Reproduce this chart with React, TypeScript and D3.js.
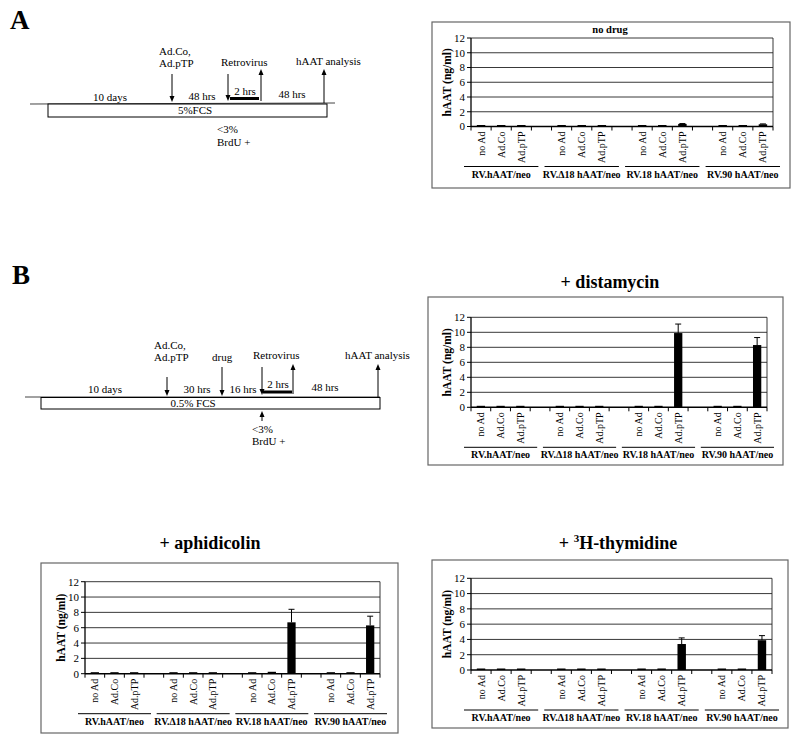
import React from "react";
import * as d3 from "d3";

// ---------- data ----------
const conditions = ["no Ad", "Ad.Co", "Ad.pTP"];
const vectors = ["RV.hAAT/neo", "RV.\u039418 hAAT/neo", "RV.18 hAAT/neo", "RV.90 hAAT/neo"];
const yTicks = [0, 2, 4, 6, 8, 10, 12];

// values ordered vector-major: [vector0: noAd, AdCo, AdpTP, vector1: ...]
const noDrugValues = [0.05, 0.05, 0.05, 0.05, 0.05, 0.08, 0.05, 0.08, 0.35, 0.03, 0.06, 0.3];
const noDrugErrors = [0, 0, 0, 0, 0, 0, 0, 0, 0.05, 0, 0, 0.05];
const distamycinValues = [0.03, 0.03, 0.03, 0.03, 0.03, 0.03, 0.03, 0.06, 9.9, 0.03, 0.06, 8.3];
const distamycinErrors = [0, 0, 0, 0, 0, 0, 0, 0, 1.2, 0, 0, 1.0];
const aphidicolinValues = [0.04, 0.05, 0.05, 0.05, 0.05, 0.05, 0.05, 0.25, 6.7, 0.05, 0.15, 6.3];
const aphidicolinErrors = [0, 0, 0, 0, 0, 0, 0, 0, 1.7, 0, 0, 1.2];
const thymidineValues = [0.05, 0.05, 0.05, 0.04, 0.04, 0.04, 0.05, 0.2, 3.4, 0.03, 0.1, 3.9];
const thymidineErrors = [0, 0, 0, 0, 0, 0, 0, 0, 0.8, 0, 0, 0.6];

const FONT = "'Liberation Serif', 'Times New Roman', serif";

// slots: 3 bars per vector with a blank slot between vectors
const SLOTS: string[] = [];
vectors.forEach((_, g) => {
  conditions.forEach((_, c) => SLOTS.push(`${g}-${c}`));
  if (g < vectors.length - 1) SLOTS.push(`${g}-gap`);
});

type PanelProps = {
  box: { x: number; y: number; w: number; h: number };
  plot: { x0: number; x1: number; y0: number; y1: number };
  title: React.ReactNode;
  titlePos: { x: number; y: number; size: number };
  values: number[];
  errors: number[];
};

function BarPanel({ box, plot, title, titlePos, values, errors }: PanelProps) {
  const x = d3.scaleBand<string>().domain(SLOTS).range([plot.x0, plot.x1]).padding(0);
  const y = d3.scaleLinear().domain([0, 12]).range([plot.y0, plot.y1]);
  const bw = x.bandwidth();
  const barW = bw * 0.42;
  const items = vectors.flatMap((v, g) =>
    conditions.map((c, ci) => ({ key: `${g}-${ci}`, cond: c, value: values[g * 3 + ci], err: errors[g * 3 + ci] }))
  );
  return (
    <g>
      <rect x={box.x} y={box.y} width={box.w} height={box.h} fill="none" stroke="#666" strokeWidth={1.2} />
      <text x={titlePos.x} y={titlePos.y} textAnchor="middle" fontFamily={FONT} fontWeight="bold" fontSize={titlePos.size}>
        {title}
      </text>
      {yTicks.filter((t) => t > 0).map((t) => (
        <line key={t} x1={plot.x0} x2={plot.x1} y1={y(t)} y2={y(t)} stroke="#222" strokeWidth={0.9} />
      ))}
      <line x1={plot.x1} x2={plot.x1} y1={y(12)} y2={y(0)} stroke="#222" strokeWidth={0.9} />
      <line x1={plot.x0} x2={plot.x0} y1={y(12)} y2={y(0)} stroke="#000" strokeWidth={1.3} />
      {yTicks.map((t) => (
        <g key={t}>
          <line x1={plot.x0 - 4} x2={plot.x0} y1={y(t)} y2={y(t)} stroke="#000" strokeWidth={1} />
          <text x={plot.x0 - 6} y={y(t)} dy="0.35em" textAnchor="end" fontFamily={FONT} fontSize={11}>
            {t}
          </text>
        </g>
      ))}
      <text
        transform={`translate(${plot.x0 - 20},${(y(0) + y(12)) / 2}) rotate(-90)`}
        textAnchor="middle"
        fontFamily={FONT}
        fontWeight="bold"
        fontSize={11.5}
      >
        hAAT (ng/ml)
      </text>
      {items.map((d) => {
        const cx = (x(d.key) as number) + bw / 2;
        const top = Math.min(y(d.value), y(0) - 1.5);
        return (
          <g key={d.key}>
            <rect x={cx - barW / 2} y={top} width={barW} height={y(0) - top} fill="#000" />
            {d.err > 0 && (
              <g stroke="#000" strokeWidth={1}>
                <line x1={cx} x2={cx} y1={y(d.value)} y2={y(d.value + d.err)} />
                <line x1={cx - 3} x2={cx + 3} y1={y(d.value + d.err)} y2={y(d.value + d.err)} />
              </g>
            )}
            <text
              transform={`translate(${cx},${y(0) + 5}) rotate(-90)`}
              textAnchor="end"
              dy="0.35em"
              fontFamily={FONT}
              fontSize={10}
            >
              {d.cond}
            </text>
          </g>
        );
      })}
      <line x1={plot.x0} x2={plot.x1} y1={y(0)} y2={y(0)} stroke="#000" strokeWidth={1.5} />
      {d3.range(SLOTS.length + 1).map((i) => {
        const xx = plot.x0 + i * bw;
        return <line key={i} x1={xx} x2={xx} y1={y(0)} y2={y(0) + 4} stroke="#000" strokeWidth={1} />;
      })}
      {vectors.map((v, g) => {
        const xs = x(`${g}-0`) as number;
        const xe = (x(`${g}-2`) as number) + bw;
        return (
          <g key={v}>
            <line x1={xs - 7} x2={xe + 7} y1={y(0) + 40} y2={y(0) + 40} stroke="#000" strokeWidth={1} />
            <text x={(xs + xe) / 2} y={y(0) + 51} textAnchor="middle" fontFamily={FONT} fontWeight="bold" fontSize={10}>
              {v}
            </text>
          </g>
        );
      })}
    </g>
  );
}

function Arrow({ x, y1, y2 }: { x: number; y1: number; y2: number }) {
  const dir = y2 > y1 ? 1 : -1;
  return (
    <g>
      <line x1={x} x2={x} y1={y1} y2={y2 - dir * 4} stroke="#000" strokeWidth={1} />
      <path d={`M${x - 2.5},${y2 - dir * 6}L${x + 2.5},${y2 - dir * 6}L${x},${y2}Z`} fill="#000" />
    </g>
  );
}

function T({ x, y, children, anchor = "start", size = 11, weight = "normal" }: any) {
  return (
    <text x={x} y={y} textAnchor={anchor} fontFamily={FONT} fontSize={size} fontWeight={weight}>
      {children}
    </text>
  );
}

function TimelineA() {
  return (
    <g>
      <T x={10} y={29} size={27} weight="bold">A</T>
      <line x1={30} x2={335} y1={104} y2={103} stroke="#444" strokeWidth={1} />
      <rect x={48} y={104} width={279} height={13} fill="#fff" stroke="#000" strokeWidth={1} />
      <T x={195} y={114} anchor="middle">5%FCS</T>
      <T x={110} y={101} anchor="middle">10 days</T>
      <T x={202} y={100} anchor="middle">48 hrs</T>
      <T x={245} y={95} anchor="middle">2 hrs</T>
      <line x1={230} x2={259} y1={98.5} y2={98.5} stroke="#000" strokeWidth={3} />
      <T x={292} y={98} anchor="middle">48 hrs</T>
      <T x={159} y={55}>Ad.Co,</T>
      <T x={159} y={67}>Ad.pTP</T>
      <Arrow x={172} y1={74} y2={102} />
      <T x={221} y={66}>Retrovirus</T>
      <Arrow x={228} y1={74} y2={101} />
      <Arrow x={261} y1={101} y2={69} />
      <T x={296} y={65}>hAAT analysis</T>
      <Arrow x={324} y1={103} y2={69} />
      <T x={217} y={133}>&lt;3%</T>
      <T x={217} y={146}>BrdU +</T>
    </g>
  );
}

function TimelineB() {
  return (
    <g>
      <T x={12} y={284} size={27} weight="bold">B</T>
      <line x1={25} x2={380} y1={397} y2={397} stroke="#444" strokeWidth={1} />
      <rect x={41} y={397.5} width={339} height={11.5} fill="#fff" stroke="#000" strokeWidth={1} />
      <T x={193} y={407} anchor="middle">0.5% FCS</T>
      <T x={105} y={393} anchor="middle">10 days</T>
      <T x={197} y={393} anchor="middle">30 hrs</T>
      <T x={243} y={393} anchor="middle">16 hrs</T>
      <T x={278} y={388} anchor="middle">2 hrs</T>
      <line x1={263} x2={292} y1={392} y2={392} stroke="#000" strokeWidth={3} />
      <T x={325} y={391} anchor="middle">48 hrs</T>
      <T x={154} y={349}>Ad.Co,</T>
      <T x={154} y={361}>Ad.pTP</T>
      <Arrow x={167} y1={377} y2={396} />
      <T x={212} y={361}>drug</T>
      <Arrow x={222} y1={367} y2={396} />
      <T x={253} y={359}>Retrovirus</T>
      <Arrow x={262} y1={367} y2={395} />
      <Arrow x={293} y1={394} y2={364} />
      <T x={345} y={359}>hAAT analysis</T>
      <Arrow x={378} y1={397} y2={364} />
      <Arrow x={262} y1={421} y2={411} />
      <T x={252} y={433}>&lt;3%</T>
      <T x={252} y={445}>BrdU +</T>
    </g>
  );
}

export default function App() {
  return (
    <div style={{ position: "absolute", left: 0, top: 0 }}>
      <svg width={800} height={741} style={{ display: "block", background: "#fff" }}>
        <TimelineA />
        <TimelineB />
        <BarPanel
          box={{ x: 432, y: 22, w: 358, h: 166 }}
          plot={{ x0: 471, x1: 773, y0: 126.5, y1: 38 }}
          title="no drug"
          titlePos={{ x: 610, y: 33, size: 10.5 }}
          values={noDrugValues}
          errors={noDrugErrors}
        />
        <BarPanel
          box={{ x: 428, y: 297, w: 355, h: 168 }}
          plot={{ x0: 471, x1: 767, y0: 407.3, y1: 317.3 }}
          title="+ distamycin"
          titlePos={{ x: 610, y: 288, size: 18 }}
          values={distamycinValues}
          errors={distamycinErrors}
        />
        <BarPanel
          box={{ x: 41, y: 563, w: 357, h: 170 }}
          plot={{ x0: 85, x1: 380, y0: 673.7, y1: 581.7 }}
          title="+ aphidicolin"
          titlePos={{ x: 210, y: 549, size: 18 }}
          values={aphidicolinValues}
          errors={aphidicolinErrors}
        />
        <BarPanel
          box={{ x: 432, y: 560, w: 356, h: 168 }}
          plot={{ x0: 471, x1: 772, y0: 670, y1: 578.3 }}
          title={
            <>
              {"+ "}
              <tspan fontSize={11} dy={-7}>3</tspan>
              <tspan dy={7}>H-thymidine</tspan>
            </>
          }
          titlePos={{ x: 618, y: 549, size: 18 }}
          values={thymidineValues}
          errors={thymidineErrors}
        />
      </svg>
    </div>
  );
}
